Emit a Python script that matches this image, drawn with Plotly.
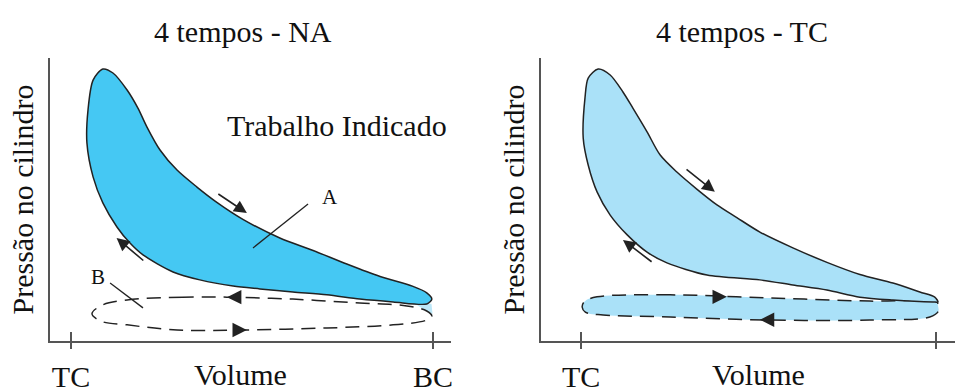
import plotly.graph_objects as go

# ---- Indicator diagram data (volume in % of stroke from TC, pressure in % of scale) ----
# Naturally aspirated engine: closed work loop (tip -> expansion back to peak -> compression to tip)
na_loop_v = [99.7, 98.3, 94.5, 85.4, 76.2, 66.9, 57.7, 47.5, 40.3, 34.8, 29.3, 24.6, 21.0,
             18.5, 15.5, 11.6, 8.8, 6.1, 4.7, 4.4, 6.1, 8.8, 12.7, 16.3, 19.9, 28.2, 35.6,
             44.8, 52.2, 61.3, 70.7, 79.8, 89.0, 98.3, 99.7]
na_loop_p = [14.8, 17.0, 19.3, 22.8, 27.2, 32.0, 36.4, 43.0, 49.0, 54.4, 60.4, 67.5, 75.6,
             82.3, 88.7, 94.7, 96.1, 92.2, 81.6, 70.0, 58.0, 48.8, 40.3, 34.6, 30.4, 24.4, 21.6,
             19.4, 18.4, 17.3, 16.3, 14.8, 13.8, 13.1, 14.8]
# Naturally aspirated engine: pumping loop
na_pump_v = [43.1, 30.9, 15.5, 8.5, 5.8, 8.5, 15.5, 29.3, 47.5, 70.7, 89.0, 98.3, 99.7,
             98.3, 92.8, 79.8, 61.3, 43.1]
na_pump_p = [15.5, 15.5, 14.5, 12.6, 9.6, 6.9, 5.7, 3.9, 3.9, 4.6, 5.7, 7.4, 8.8,
             10.6, 12.4, 13.4, 14.8, 15.5]
# Small overlap patch at the BC end of the NA pumping loop
na_patch_v = [95.5, 99.6, 99.9, 99.0, 97.0, 95.5]
na_patch_p = [12.8, 13.2, 9.6, 9.9, 11.6, 12.8]

# Turbocharged engine: closed work loop
tc_loop_v = [100.6, 99.7, 95.5, 87.9, 78.6, 69.3, 59.7, 50.4, 43.9, 38.3, 32.7, 27.0, 22.3,
             18.6, 14.6, 11.8, 8.2, 4.8, 2.0, 1.1, 0.6, 2.0, 4.5, 8.2, 13.0, 18.6, 24.2,
             35.5, 50.4, 59.7, 69.3, 78.6, 87.9, 99.2, 100.6]
tc_loop_p = [13.8, 15.5, 17.3, 20.5, 23.5, 27.8, 32.9, 38.5, 43.6, 48.1, 53.6, 59.7, 65.7,
             73.9, 82.3, 88.0, 94.0, 96.1, 92.9, 85.9, 71.7, 62.2, 52.7, 44.5, 37.5, 31.4, 27.6,
             23.3, 21.6, 19.8, 18.0, 15.5, 14.5, 13.8, 13.8]
# Turbocharged engine: pumping loop (positive work)
tc_pump_v = [53.2, 25.1, 4.5, 1.0, 0.3, 1.2, 6.2, 25.1, 53.2, 81.4, 98.3, 100.7, 100.6,
             100.3, 81.4, 53.2]
tc_pump_p = [15.2, 16.3, 15.6, 14.0, 12.0, 10.2, 9.2, 8.5, 7.4, 7.4, 8.5, 10.5, 12.5,
             13.8, 14.1, 15.2]

# Direction arrows: (tail volume, tail pressure, head volume, head pressure)
na_arrows = [(40.3, 52.3, 48.6, 45.2), (20.4, 28.0, 12.6, 36.4)]
tc_arrows = [(29.3, 61.1, 37.7, 52.7), (20.3, 27.6, 11.8, 35.7)]
# Arrowheads on the pumping loops: (volume, pressure, direction)
na_pump_heads = [(43.1, 15.5, "left"), (48.6, 3.9, "right")]
tc_pump_heads = [(41.1, 15.6, "right"), (50.4, 7.5, "left")]

# Leader lines and labels
lead_a_v, lead_a_p = [50.3, 65.5], [32.9, 48.4]
lead_b_v, lead_b_p = [10.8, 19.9], [20.5, 11.7]
label_a = ("A", 71.5, 50.9)
label_b = ("B", 7.5, 22.6)
work_label = ("Trabalho Indicado", 73.6, 76.0)

tick_vals = [0, 100]
tick_text = ["TC", "BC"]
x_title = "Volume"
x_title_pos = [46.7, 50.1]
y_title = "Pressão no cilindro"
titles = ["4 tempos - NA", "4 tempos - TC"]

FONT = "Liberation Serif, Times New Roman, serif"
TXT = "#111111"
INK = "#222222"
AXIS = "#555555"
NA_FILL = "#45C8F3"
TC_FILL = "#AAE1F8"
FS = 30
W, H = 955, 389

fig = go.Figure()

# NA panel
fig.add_trace(go.Scatter(x=na_patch_v, y=na_patch_p, mode="none", fill="toself", fillcolor="#BCE7F7",
                         xaxis="x", yaxis="y", hoverinfo="skip"))
fig.add_trace(go.Scatter(x=na_pump_v, y=na_pump_p, mode="lines",
                         line=dict(color=INK, width=1.5, dash="14px,8px", shape="spline", smoothing=1.0),
                         xaxis="x", yaxis="y", hoverinfo="skip"))
fig.add_trace(go.Scatter(x=na_loop_v, y=na_loop_p, mode="lines", fill="toself", fillcolor=NA_FILL,
                         line=dict(color=INK, width=1.5, shape="spline", smoothing=0.8),
                         xaxis="x", yaxis="y", hoverinfo="skip"))
fig.add_trace(go.Scatter(x=lead_a_v, y=lead_a_p, mode="lines", line=dict(color=INK, width=1.3),
                         xaxis="x", yaxis="y", hoverinfo="skip"))
fig.add_trace(go.Scatter(x=lead_b_v, y=lead_b_p, mode="lines", line=dict(color=INK, width=1.3),
                         xaxis="x", yaxis="y", hoverinfo="skip"))

# TC panel
fig.add_trace(go.Scatter(x=tc_pump_v, y=tc_pump_p, mode="lines", fill="toself", fillcolor=TC_FILL,
                         line=dict(color=INK, width=1.5, dash="14px,8px", shape="spline", smoothing=1.0),
                         xaxis="x2", yaxis="y2", hoverinfo="skip"))
fig.add_trace(go.Scatter(x=tc_loop_v, y=tc_loop_p, mode="lines", fill="toself", fillcolor=TC_FILL,
                         line=dict(color=INK, width=1.5, shape="spline", smoothing=0.8),
                         xaxis="x2", yaxis="y2", hoverinfo="skip"))

annotations = []


def free_arrow(tail_v, tail_p, head_v, head_p, xa, ya):
    return dict(x=head_v, y=head_p, ax=tail_v, ay=tail_p, xref=xa, yref=ya, axref=xa, ayref=ya,
                text="", showarrow=True, arrowhead=2, arrowsize=1.6, arrowwidth=1.6, arrowcolor=INK)


def loop_head(v, p, direction, xa, ya):
    off = 14 if direction == "left" else -14
    return dict(x=v, y=p, ax=off, ay=0, xref=xa, yref=ya, text="", showarrow=True,
                arrowhead=2, arrowsize=1.8, arrowwidth=1.6, arrowcolor=INK)


for a in na_arrows:
    annotations.append(free_arrow(*a, "x", "y"))
for a in tc_arrows:
    annotations.append(free_arrow(*a, "x2", "y2"))
for v, p, d in na_pump_heads:
    annotations.append(loop_head(v, p, d, "x", "y"))
for v, p, d in tc_pump_heads:
    annotations.append(loop_head(v, p, d, "x2", "y2"))

for txt, v, p in (label_a, label_b):
    annotations.append(dict(x=v, y=p, xref="x", yref="y", text=txt, showarrow=False,
                            font=dict(family=FONT, size=21, color=TXT)))
annotations.append(dict(x=work_label[1], y=work_label[2], xref="x", yref="y", text=work_label[0],
                        showarrow=False, font=dict(family=FONT, size=FS, color=TXT)))

# Panel titles
for t, cx in zip(titles, (243, 742)):
    annotations.append(dict(x=cx / W, y=1 - 31 / H, xref="paper", yref="paper", text=t, showarrow=False,
                            xanchor="center", yanchor="middle", font=dict(family=FONT, size=FS, color=TXT)))
# "Volume" under each x axis
for xa, v in zip(("x", "x2"), x_title_pos):
    annotations.append(dict(x=v, y=1 - 374 / H, xref=xa, yref="paper", text=x_title, showarrow=False,
                            xanchor="center", yanchor="middle", font=dict(family=FONT, size=FS, color=TXT)))

x_common = dict(showgrid=False, zeroline=False, showline=True, linecolor=AXIS, linewidth=2,
                tickmode="array", tickvals=tick_vals, ticktext=tick_text, ticks="inside", ticklen=9,
                tickwidth=2, tickcolor=AXIS, tickfont=dict(family=FONT, size=FS, color=TXT),
                minor=dict(tickmode="array", tickvals=tick_vals, ticks="outside", ticklen=6,
                           tickwidth=2, tickcolor=AXIS, showgrid=False),
                ticklabelstandoff=8, automargin=False, fixedrange=True)
y_common = dict(showgrid=False, zeroline=False, showline=True, linecolor=AXIS, linewidth=2,
                showticklabels=False, ticks="", range=[0, 100], automargin=False, fixedrange=True,
                title=dict(text=y_title, font=dict(family=FONT, size=FS, color=TXT), standoff=6))

y_dom = [48 / H, 331 / H]
fig.update_layout(
    width=W, height=H, margin=dict(l=0, r=0, t=0, b=0),
    paper_bgcolor="white", plot_bgcolor="white", showlegend=False,
    xaxis=dict(domain=[50 / W, 451 / W], range=[-5.8, 105.0], anchor="y", **x_common),
    yaxis=dict(domain=y_dom, anchor="x", **y_common),
    xaxis2=dict(domain=[541 / W, 1.0], range=[-11.3, 105.4], anchor="y2", **x_common),
    yaxis2=dict(domain=y_dom, anchor="x2", **y_common),
    annotations=annotations,
)

fig.write_html("out.html")
